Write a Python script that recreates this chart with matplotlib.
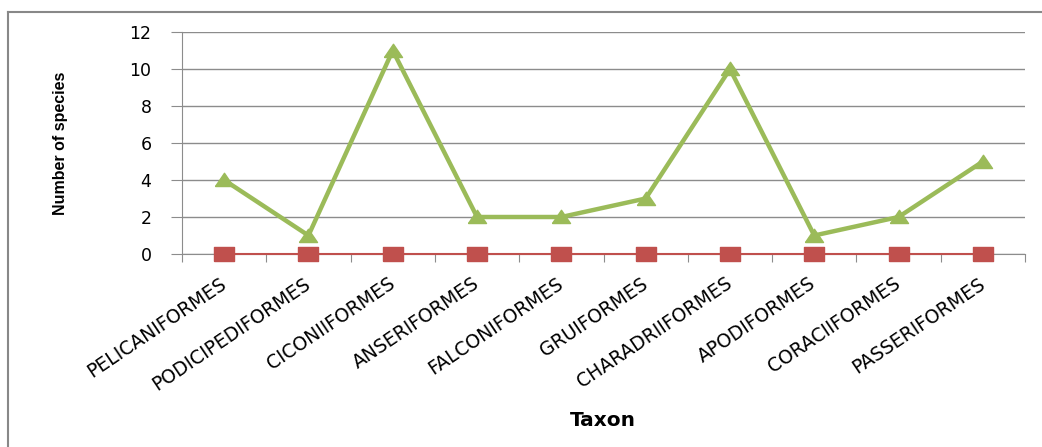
import matplotlib
matplotlib.use("Agg")
import matplotlib.pyplot as plt
from matplotlib.lines import Line2D
import numpy as np

categories = ["PELICANIFORMES", "PODICIPEDIFORMES", "CICONIIFORMES", "ANSERIFORMES",
              "FALCONIFORMES", "GRUIFORMES", "CHARADRIIFORMES", "APODIFORMES",
              "CORACIIFORMES", "PASSERIFORMES"]
series_green = [4, 1, 11, 2, 2, 3, 10, 1, 2, 5]
series_red = [0, 0, 0, 0, 0, 0, 0, 0, 0, 0]
y_ticks = [0, 2, 4, 6, 8, 10, 12]

W, H = 1042, 447
fig = plt.figure(figsize=(W / 100, H / 100), dpi=100)
ax = fig.add_axes([182 / W, (H - 254) / H, (1025 - 182) / W, 222 / H])

x = np.arange(len(categories))
tri = [(-1.5, -1), (1.5, -1), (0, 1.2), (-1.5, -1)]
rect = [(-1.5, -1), (1.5, -1), (1.5, 1), (-1.5, 1), (-1.5, -1)]

ax.plot(x, series_red, color="#C0504D", lw=1.5, marker=rect, ms=15,
        mfc="#C0504D", mec="#C0504D", clip_on=False, zorder=4)
ax.plot(x, series_green, color="#9BBB59", lw=3.2, marker=tri, ms=13,
        mfc="#9BBB59", mec="#9BBB59", clip_on=False, zorder=5)

ax.set_xlim(-0.5, len(categories) - 0.5)
ax.set_ylim(0, 12)
ax.set_yticks(y_ticks)
ax.set_yticklabels([str(v) for v in y_ticks], fontsize=12.5, family="DejaVu Sans")
ax.yaxis.grid(True, color="#8C8C8C", lw=1)
ax.set_axisbelow(True)

ax.set_xticks(np.arange(-0.5, len(categories), 1.0))
ax.set_xticklabels([])
ax.set_xticks(x, minor=True)
ax.set_xticklabels(categories, minor=True, rotation=34, ha="right", va="center",
                   rotation_mode="anchor", fontsize=13.5, family="DejaVu Sans")
ax.tick_params(axis="x", which="major", length=6, color="#8C8C8C", direction="out")
ax.tick_params(axis="x", which="minor", length=0, pad=20)
ax.tick_params(axis="y", length=8, color="#8C8C8C", pad=14)

for s in ["top", "right"]:
    ax.spines[s].set_visible(False)
ax.spines["left"].set_color("#8C8C8C")
ax.spines["bottom"].set_color("#8C8C8C")

fig.text(60 / W, (H - 143) / H, "Number of species", rotation=90, ha="center", va="center",
         fontsize=11.5, fontweight="bold", family="Liberation Sans")
fig.text(603 / W, (H - 420) / H, "Taxon", ha="center", va="center",
         fontsize=14.5, fontweight="bold", family="DejaVu Sans")

bx, by = 8 / W, 1 - 11.5 / H
fig.add_artist(Line2D([bx, bx], [0, by], transform=fig.transFigure, color="#888888", lw=1.5))
fig.add_artist(Line2D([bx, 1], [by, by], transform=fig.transFigure, color="#888888", lw=1.5))

fig.savefig("out.png", dpi=100)
